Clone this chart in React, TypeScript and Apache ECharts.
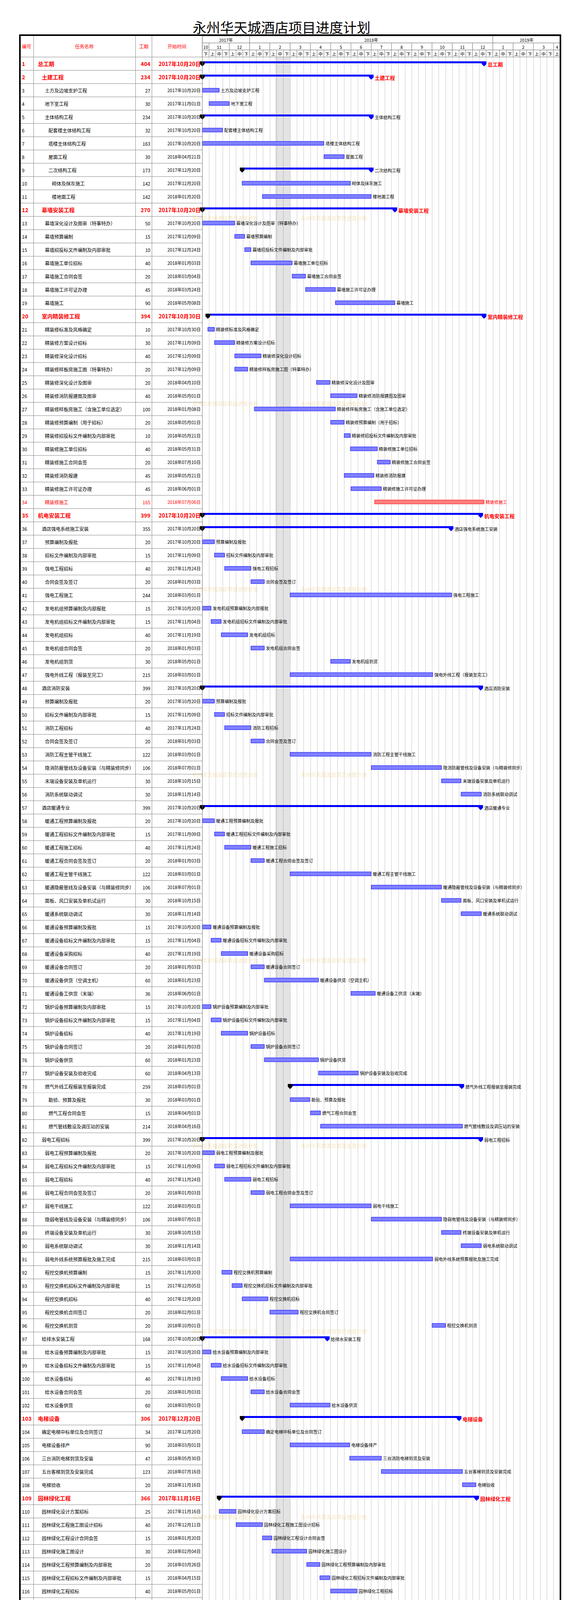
import React, { useEffect, useRef } from "react";
import * as echarts from "echarts";

const FONT = '"Noto Sans CJK SC", "Noto Sans", sans-serif';

const taskNames: string[] = [
  "总工期", "土建工程", "土方及边坡支护工程", "地下室工程", "主体结构工程", "配套楼主体结构工程", "塔楼主体结构工程", "屋面工程", "二次结构工程", "砌体及抹灰施工",
  "楼地面工程", "幕墙安装工程", "幕墙深化设计及图审（特事特办）", "幕墙预算编制", "幕墙招投标文件编制及内部审批", "幕墙施工单位招标", "幕墙施工合同会签", "幕墙施工许可证办理", "幕墙施工", "室内精装修工程",
  "精装修标准及风格确定", "精装修方案设计招标", "精装修深化设计招标", "精装修样板房施工图（特事特办）", "精装修深化设计及图审", "精装修消防报建图及图审", "精装修样板房施工（含施工单位选定）", "精装修预算编制（用于招标）", "精装修招投标文件编制及内部审批", "精装修施工单位招标",
  "精装修施工合同会签", "精装修消防报建", "精装修施工许可证办理", "精装修施工", "机电安装工程", "酒店强电系统施工安装", "预算编制及报批", "招标文件编制及内部审批", "强电工程招标", "合同会签及签订",
  "强电工程施工", "发电机组预算编制及内部报批", "发电机组招标文件编制及内部审批", "发电机组招标", "发电机组合同会签", "发电机组到货", "强电外线工程（报装至完工）", "酒店消防安装", "预算编制及报批", "招标文件编制及内部审批",
  "消防工程招标", "合同会签及签订", "消防工程主管干线施工", "隐消防蔽管线及设备安装（与精装修同步）", "末端设备安装及单机运行", "消防系统联动调试", "酒店暖通专业", "暖通工程预算编制及报批", "暖通工程招标文件编制及内部审批", "暖通工程施工招标",
  "暖通工程合同会签及签订", "暖通工程主管干线施工", "暖通隐蔽管线及设备安装（与精装修同步）", "面板、风口安装及单机试运行", "暖通系统联动调试", "暖通设备预算编制及报批", "暖通设备招标文件编制及内部审批", "暖通设备采购招标", "暖通设备合同签订", "暖通设备供货（空调主机）",
  "暖通设备工供货（末端）", "锅炉设备预算编制及内部审批", "锅炉设备招标文件编制及内部审批", "锅炉设备招标", "锅炉设备合同签订", "锅炉设备供货", "锅炉设备安装及验收完成", "燃气外线工程报装至报装完成", "勘验、预算及报批", "燃气工程合同会签",
  "燃气管线敷设及调压站的安装", "弱电工程招标", "弱电工程预算编制及报批", "弱电工程招标文件编制及内部审批", "弱电工程招标", "弱电工程合同会签及签订", "弱电干线施工", "隐弱电管线及设备安装（与精装修同步）", "终端设备安装及单机运行", "弱电系统联动调试",
  "弱电外线系统预算报批及施工完成", "程控交换机预算编制", "程控交换机招标文件编制及内部审批", "程控交换机招标", "程控交换机合同签订", "程控交换机到货", "给排水安装工程", "给水设备预算编制及内部审批", "给水设备招标文件编制及内部审批", "给水设备招标",
  "给水设备合同会签", "给水设备供货", "电梯设备", "确定电梯中标单位及合同签订", "电梯设备排产", "三台消防电梯到货及安装", "五台客梯到货及安装完成", "电梯验收", "园林绿化工程", "园林绿化设计方案招标",
  "园林绿化工程施工图设计招标", "园林绿化工程设计合同会签", "园林绿化施工图设计", "园林绿化工程预算编制及内部审批", "园林绿化工程招标文件编制及内部审批", "园林绿化工程招标", "园林绿化工程合同会签", "园林绿化工程施工", "洗衣房设备采购及安装", "洗衣房设备预算编制及内部审批",
  "洗衣房设备招标文件编制及内部审批", "洗衣房设备招标", "洗衣房设备合同会签", "洗衣房设备到货", "洗衣房设备安装", "洗衣房设备调试及验收", "精装修期间十大件采购", "卫浴洁具五金采购", "卫浴洁具五金预算书编制及内部审核", "卫浴洁具五金招标文件编制及内部审核",
  "卫浴洁具五金招标", "卫浴洁具五金合同会签", "卫浴洁具五金货到工地（分批）", "地毯家具门锁标牌灯具窗帘采购（六件）", "预算编制及呈批", "招标文件编制及内部审批", "招标", "合同会签", "发货", "活动隔断采购",
  "活动隔断预算书编制及内部审核", "活动隔断招标文件编制及内部审核", "活动隔断招标", "活动隔断合同会签", "活动隔断货到工地及安装", "厨房设备及安装工程", "厨房设备预算编制及内部审批", "厨房房设备招标文件编制及内部审批", "厨房设备招标", "厨房房设备合同会签",
  "厨房设备到货", "厨房设备安装", "厨房设备调试及验收",
];

// outline level of each row (0 = top)
const taskLevels: number[] = [
  0, 1, 2, 2, 2, 3, 3, 3, 3, 4,
  4, 1, 2, 2, 2, 2, 2, 2, 2, 1,
  2, 2, 2, 2, 2, 2, 2, 2, 2, 2,
  2, 2, 2, 2, 0, 1, 2, 2, 2, 2,
  2, 2, 2, 2, 2, 2, 2, 1, 2, 2,
  2, 2, 2, 2, 2, 2, 1, 2, 2, 2,
  2, 2, 2, 2, 2, 2, 2, 2, 2, 2,
  2, 2, 2, 2, 2, 2, 2, 2, 3, 3,
  3, 1, 2, 2, 2, 2, 2, 2, 2, 2,
  2, 2, 2, 2, 2, 2, 1, 2, 2, 2,
  2, 2, 0, 1, 1, 1, 1, 1, 0, 1,
  1, 1, 1, 1, 1, 1, 1, 1, 0, 1,
  1, 1, 1, 1, 1, 1, 0, 1, 2, 2,
  2, 2, 2, 1, 2, 2, 2, 2, 2, 1,
  2, 2, 2, 2, 2, 1, 2, 2, 2, 2,
  2, 2, 2,
];

// S = main summary (bold red), s = summary, r = red summary, c = critical task, t = task
const taskKinds: string[] = [
  "S", "S", "t", "t", "s", "t", "t", "t", "s", "t",
  "t", "S", "t", "t", "t", "t", "t", "t", "t", "S",
  "t", "t", "t", "t", "t", "t", "t", "t", "t", "t",
  "t", "t", "t", "c", "S", "s", "t", "t", "t", "t",
  "t", "t", "t", "t", "t", "t", "t", "s", "t", "t",
  "t", "t", "t", "t", "t", "t", "s", "t", "t", "t",
  "t", "t", "t", "t", "t", "t", "t", "t", "t", "t",
  "t", "t", "t", "t", "t", "t", "t", "s", "t", "t",
  "t", "s", "t", "t", "t", "t", "t", "t", "t", "t",
  "t", "t", "t", "t", "t", "t", "s", "t", "t", "t",
  "t", "t", "S", "t", "t", "t", "t", "t", "S", "t",
  "t", "t", "t", "t", "t", "t", "t", "t", "r", "t",
  "t", "t", "t", "t", "t", "t", "S", "s", "t", "t",
  "t", "t", "t", "s", "t", "t", "t", "t", "t", "s",
  "t", "t", "t", "t", "t", "s", "t", "t", "t", "t",
  "t", "t", "t",
];

const durations: number[] = [
  404, 234, 27, 30, 234, 32, 163, 30, 173, 142,
  142, 270, 50, 15, 10, 40, 20, 45, 90, 394,
  10, 30, 40, 20, 20, 40, 100, 20, 10, 40,
  20, 45, 45, 165, 399, 355, 20, 15, 40, 20,
  244, 15, 15, 40, 20, 30, 215, 399, 20, 15,
  40, 20, 122, 106, 30, 30, 399, 20, 15, 40,
  20, 122, 106, 30, 30, 15, 15, 40, 20, 60,
  36, 15, 15, 40, 20, 60, 60, 259, 30, 15,
  214, 399, 20, 15, 40, 20, 122, 106, 30, 30,
  215, 15, 15, 40, 20, 20, 168, 15, 15, 40,
  20, 60, 306, 34, 90, 47, 123, 20, 366, 25,
  40, 15, 30, 20, 15, 40, 15, 167, 256, 15,
  15, 40, 15, 60, 90, 10, 261, 197, 15, 15,
  40, 20, 104, 199, 20, 20, 40, 20, 20, 178,
  15, 20, 40, 20, 20, 256, 15, 15, 40, 15,
  60, 90, 10,
];

const startDates: string[] = [
  "2017-10-20", "2017-10-20", "2017-10-20", "2017-11-01", "2017-10-20", "2017-10-20", "2017-10-20", "2018-04-21", "2017-12-20", "2017-12-20",
  "2018-01-20", "2017-10-20", "2017-10-20", "2017-12-09", "2017-12-24", "2018-01-03", "2018-03-04", "2018-03-24", "2018-05-08", "2017-10-30",
  "2017-10-30", "2017-11-09", "2017-12-09", "2017-12-09", "2018-04-10", "2018-05-01", "2018-01-08", "2018-05-01", "2018-05-21", "2018-05-31",
  "2018-07-10", "2018-05-21", "2018-06-01", "2018-07-06", "2017-10-20", "2017-10-20", "2017-10-20", "2017-11-09", "2017-11-24", "2018-01-03",
  "2018-03-01", "2017-10-20", "2017-11-04", "2017-11-19", "2018-01-03", "2018-05-01", "2018-03-01", "2017-10-20", "2017-10-20", "2017-11-09",
  "2017-11-24", "2018-01-03", "2018-03-01", "2018-07-01", "2018-10-15", "2018-11-14", "2017-10-20", "2017-10-20", "2017-11-09", "2017-11-24",
  "2018-01-03", "2018-03-01", "2018-07-01", "2018-10-15", "2018-11-14", "2017-10-20", "2017-11-04", "2017-11-19", "2018-01-03", "2018-01-23",
  "2018-06-01", "2017-10-20", "2017-11-04", "2017-11-19", "2018-01-03", "2018-01-23", "2018-04-13", "2018-03-01", "2018-03-01", "2018-04-01",
  "2018-04-16", "2017-10-20", "2017-10-20", "2017-11-09", "2017-11-24", "2018-01-03", "2018-03-01", "2018-07-01", "2018-10-15", "2018-11-14",
  "2018-03-01", "2017-11-20", "2017-12-05", "2017-12-20", "2018-02-01", "2018-10-01", "2017-10-20", "2017-10-20", "2017-11-04", "2017-11-19",
  "2018-01-03", "2018-03-01", "2017-12-20", "2017-12-20", "2018-03-01", "2018-05-30", "2018-07-16", "2018-11-16", "2017-11-16", "2017-11-16",
  "2017-12-11", "2018-01-20", "2018-02-04", "2018-03-26", "2018-04-15", "2018-05-01", "2018-06-10", "2018-06-25", "2018-03-27", "2018-03-27",
  "2018-04-11", "2018-04-26", "2018-06-05", "2018-06-20", "2018-08-19", "2018-11-17", "2018-03-27", "2018-05-01", "2018-05-01", "2018-05-16",
  "2018-06-01", "2018-07-11", "2018-08-01", "2018-05-12", "2018-05-12", "2018-06-01", "2018-06-21", "2018-08-01", "2018-11-07", "2018-05-01",
  "2018-05-01", "2018-05-16", "2018-06-05", "2018-07-15", "2018-10-06", "2018-03-27", "2018-03-27", "2018-04-11", "2018-04-26", "2018-06-05",
  "2018-06-20", "2018-08-19", "2018-11-17",
];

const yearLabels = ["2017年", "2018年", "2019年"];
const yearDekads = [7, 36, 10];
const monthLabels = ["10", "11", "12", "1", "2", "3", "4", "5", "6", "7", "8", "9", "10", "11", "12", "1", "2", "3", "4"];
const monthDekads = [1, 3, 3, 3, 3, 3, 3, 3, 3, 3, 3, 3, 3, 3, 3, 3, 3, 3, 1];
const dekadLabels = [
  "下", "上", "中", "下", "上", "中", "下",
  "上", "中", "下", "上", "中", "下", "上", "中", "下", "上", "中", "下", "上", "中", "下", "上", "中", "下",
  "上", "中", "下", "上", "中", "下", "上", "中", "下", "上", "中", "下", "上", "中", "下", "上", "中", "下",
  "上", "中", "下", "上", "中", "下", "上", "中", "下", "上",
];

const holidayFirst = "2018-02-09";
const holidayLast = "2018-02-28";

const titleText = "永州华天城酒店项目进度计划";
const watermarkText = "永州华天城酒店项目进度计划";
const tableHead = ["编号", "任务名称", "工期", "开始时间"];
const legendItems = ["关键任务", "一般任务", "一般摘要"];
const infoRows: string[][] = [
  ["编制人", "永州华天城酒店项目进度计划"],
  ["项目经理", "", "开始时间", "2017年10月20日"],
  ["审核人", "", "结束时间", "2018年12月17日"],
  ["校对人", "", "工期", "404天"],
  ["", "2017-10-20"],
];

// ---------- helpers ----------
const DAY = 86400000;
function parseDate(s: string) {
  const [y, m, d] = s.split("-").map(Number);
  return Date.UTC(y, m - 1, d);
}
const hFirst = parseDate(holidayFirst);
const hLast = parseDate(holidayLast);
function endExclusive(startMs: number, dur: number) {
  let t = startMs;
  let n = 0;
  while (n < dur) {
    if (!(t >= hFirst && t <= hLast)) n++;
    t += DAY;
  }
  return t;
}
function dekadPos(ms: number) {
  const dt = new Date(ms);
  const y = dt.getUTCFullYear();
  const m = dt.getUTCMonth() + 1;
  const d = dt.getUTCDate();
  const mi = (y - 2017) * 12 + (m - 1) - 9;
  const dim = new Date(Date.UTC(y, m, 0)).getUTCDate();
  let k = 0, s = 1, len = 10;
  if (d > 20) { k = 2; s = 21; len = dim - 20; } else if (d > 10) { k = 1; s = 11; len = 10; }
  return Math.max(0, mi * 3 + k - 2 + (d - s) / len);
}
function fmtDate(s: string) {
  const [y, m, d] = s.split("-");
  return `${y}年${m}月${d}日`;
}

const W = 1480, H = 5599;
const GL = 518, GR = 1435, BT = 146, RH = 34;
const NROWS = taskNames.length;
const NDEK = dekadLabels.length;
const BOTTOM = BT + NROWS * RH;
const levelX = [97, 107, 115, 124, 133];
const SPLIT_ROW = 78;
const SPLIT_Y = BT + SPLIT_ROW * RH;
const FRAME_TOP = 90, FRAME_BOTTOM = 5548, FRAME_L = 51, FRAME_R = 1435;

const txt = (text: string, x: number, y: number, o: any = {}) => ({
  type: "text",
  style: {
    text, x, y,
    fill: o.fill || "#000",
    fontSize: o.size || 12,
    fontWeight: o.weight || "normal",
    fontFamily: FONT,
    align: o.align || "left",
    textAlign: o.align || "left",
    verticalAlign: "middle",
    textVerticalAlign: "middle",
    opacity: o.opacity == null ? 1 : o.opacity,
  },
  z: o.z || 10,
});

const summaryShape = (x: number, yc: number, color: string) => ({
  type: "polygon",
  shape: { points: [[x - 6, yc - 6], [x + 6, yc - 6], [x + 6, yc + 1], [x, yc + 7], [x - 6, yc + 1]] },
  style: { fill: color },
});

// static decorations, only those inside [top, bottom)
function staticGraphics(top: number, bottom: number) {
  const g: any[] = [];
  const inside = (y0: number, y1: number) => y1 > top && y0 < bottom;
  const addAt = (el: any, y0: number, y1: number) => { if (inside(y0, y1)) g.push(el); };
  const vline = (x: number, y0: number, y1: number, stroke: string, lw: number, z = 10) => {
    const a = Math.max(y0, top), b = Math.min(y1, bottom);
    if (b > a) g.push({ type: "line", shape: { x1: x, y1: a, x2: x, y2: b }, style: { stroke, lineWidth: lw }, z });
  };
  const hline = (x0: number, x1: number, y: number, stroke: string, lw: number, z = 10) =>
    addAt({ type: "line", shape: { x1: x0, y1: y, x2: x1, y2: y }, style: { stroke, lineWidth: lw }, z }, y - 2, y + 2);

  for (let k = 0; k < 11; k++) {
    const y = 557 + k * 475;
    addAt(txt(watermarkText, 492, y, { size: 13, fill: "#e9c46a", opacity: 0.45, z: 0 }), y - 9, y + 9);
    addAt(txt(watermarkText, 770, y, { size: 13, fill: "#e9c46a", opacity: 0.45, z: 0 }), y - 9, y + 9);
  }
  addAt(txt(titleText, 721, 68, { size: 35, align: "center" }), 45, 90);
  addAt(txt(tableHead[0], 56, 118, { fill: "#ff0000", size: 12 }), 110, 126);
  addAt(txt(tableHead[1], 216, 118, { fill: "#ff0000", size: 12, align: "center" }), 110, 126);
  addAt(txt(tableHead[2], 368, 118, { fill: "#ff0000", size: 12, align: "center" }), 110, 126);
  addAt(txt(tableHead[3], 453, 118, { fill: "#ff0000", size: 12, align: "center" }), 110, 126);
  [86, 347, 389].forEach((x) => vline(x, FRAME_TOP, BT, "#808080", 1));
  vline(GL, FRAME_TOP, BOTTOM, "#808080", 1);
  hline(FRAME_L, GL, BT, "#808080", 1);
  hline(FRAME_L, FRAME_R, BOTTOM, "#000", 2);
  // frame
  hline(FRAME_L - 2, FRAME_R + 2, FRAME_TOP, "#000", 4, 20);
  hline(FRAME_L - 2, FRAME_R + 2, FRAME_BOTTOM, "#000", 4, 20);
  vline(FRAME_L, FRAME_TOP, FRAME_BOTTOM, "#000", 4, 20);
  vline(FRAME_R, FRAME_TOP, FRAME_BOTTOM, "#000", 4, 20);
  // legend
  const ly = BOTTOM + 20;
  if (inside(ly - 10, ly + 10)) {
    g.push(txt("图例：", 63, ly, { size: 12 }));
    g.push(txt(legendItems[0], 105, ly, { size: 12, fill: "#ff0000" }));
    g.push({ type: "rect", shape: { x: 164, y: ly - 4.5, width: 30, height: 9 }, style: { fill: "#ff7f7f", stroke: "#ff0000", lineWidth: 1 } });
    g.push(txt(legendItems[1], 207, ly, { size: 12 }));
    g.push({ type: "rect", shape: { x: 266, y: ly - 4.5, width: 30, height: 9 }, style: { fill: "#7f7fff", stroke: "#0000ff", lineWidth: 1 } });
    g.push(txt(legendItems[2], 309, ly, { size: 12 }));
    g.push({ type: "rect", shape: { x: 368, y: ly - 6, width: 30, height: 5 }, style: { fill: "#0000ff" } });
    g.push(summaryShape(368, ly, "#000"));
    g.push(summaryShape(398, ly, "#0000ff"));
  }
  // info block
  const cx = [1137, 1197, 1287, 1348, 1437];
  const ry = [5383, 5416, 5449, 5482, 5515, 5549];
  if (inside(ry[0], ry[5])) {
    g.push({ type: "line", shape: { x1: cx[0], y1: ry[0], x2: cx[4], y2: ry[0] }, style: { stroke: "#000", lineWidth: 1.5 } });
    for (let r = 0; r < 5; r++) {
      const y0 = ry[r], y1 = ry[r + 1], yc = (y0 + y1) / 2;
      g.push({ type: "line", shape: { x1: cx[0], y1: y1, x2: cx[4], y2: y1 }, style: { stroke: "#000", lineWidth: 1.5 } });
      const row = infoRows[r];
      let bounds: number[][];
      if (r === 0) bounds = [[cx[0], cx[1]], [cx[1], cx[4]]];
      else if (r === 4) bounds = [[cx[0], cx[2]], [cx[2], cx[4]]];
      else bounds = [[cx[0], cx[1]], [cx[1], cx[2]], [cx[2], cx[3]], [cx[3], cx[4]]];
      bounds.forEach((b, j) => {
        g.push({ type: "line", shape: { x1: b[0], y1: y0, x2: b[0], y2: y1 }, style: { stroke: "#000", lineWidth: 1.5 } });
        if (row[j]) g.push(txt(row[j], (b[0] + b[1]) / 2, yc, { size: 11, align: "center" }));
      });
    }
  }
  return g;
}

function buildOption(r0: number, r1: number, offset: number, height: number, withHeader: boolean) {
  const rowIdx: number[] = [];
  for (let i = r0; i < r1; i++) rowIdx.push(i);
  const barData = rowIdx.map((i, k) => {
    const st = parseDate(startDates[i]);
    const en = endExclusive(st, durations[i]);
    return [dekadPos(st), dekadPos(en), k];
  });

  const headerCells: [number, number, number, string][] = [];
  let acc = 0;
  yearLabels.forEach((l, i) => { headerCells.push([acc, acc + yearDekads[i], 0, l]); acc += yearDekads[i]; });
  acc = 0;
  monthLabels.forEach((l, i) => { headerCells.push([acc, acc + monthDekads[i], 1, l]); acc += monthDekads[i]; });
  dekadLabels.forEach((l, i) => headerCells.push([i, i + 1, 2, l]));

  const gridTop = BT + r0 * RH - offset;
  const grids: any[] = [{ left: GL, top: gridTop, width: GR - GL, height: (r1 - r0) * RH }];
  const xAxes: any[] = [{
    type: "value", gridIndex: 0, min: 0, max: NDEK, interval: 1,
    axisLine: { show: false }, axisTick: { show: false }, axisLabel: { show: false },
    splitLine: { show: true, lineStyle: { color: "#555", type: [1, 2], width: 1 } },
  }];
  const yAxes: any[] = [{
    type: "category", gridIndex: 0, inverse: true, data: rowIdx.map((i) => String(i + 1)),
    axisLine: { show: false }, axisTick: { show: false }, axisLabel: { show: false }, splitLine: { show: false },
  }];
  const series: any[] = [
    {
      type: "custom", xAxisIndex: 0, yAxisIndex: 0, z: 1,
      data: [[dekadPos(hFirst), dekadPos(hLast + DAY), 0]],
      encode: { x: [0, 1], y: 2 },
      renderItem: (params: any, api: any) => {
        const cs = params.coordSys;
        const x0 = api.coord([api.value(0), 0])[0];
        const x1 = api.coord([api.value(1), 0])[0];
        return { type: "rect", shape: { x: x0, y: cs.y, width: x1 - x0, height: cs.height }, style: { fill: "rgba(0,0,0,0.11)" } };
      },
    },
    {
      type: "custom", xAxisIndex: 0, yAxisIndex: 0, z: 3,
      data: rowIdx.map((_, k) => [0, k]),
      encode: { x: 0, y: 1 },
      renderItem: (params: any, api: any) => {
        const i = rowIdx[params.dataIndex];
        const yc = api.coord([0, params.dataIndex])[1];
        const h = api.size([0, 1])[1];
        const kind = taskKinds[i];
        const big = kind === "S";
        const red = kind === "S" || kind === "r" || kind === "c";
        const col = red ? "#ff0000" : "#000";
        const size = big ? 14 : 12;
        const weight = big ? "bold" : "normal";
        return {
          type: "group",
          children: [
            { type: "line", shape: { x1: FRAME_L, y1: yc + h / 2, x2: GL, y2: yc + h / 2 }, style: { stroke: "#808080", lineWidth: 1 } },
            ...[86, 347, 389].map((x) => ({ type: "line", shape: { x1: x, y1: yc - h / 2, x2: x, y2: yc + h / 2 }, style: { stroke: "#808080", lineWidth: 1 } })),
            txt(String(i + 1), 56, yc, { size, weight, fill: col }),
            txt(taskNames[i], levelX[taskLevels[i]], yc, { size, weight, fill: col }),
            txt(String(durations[i]), 385, yc, { size, weight, fill: col, align: "right" }),
            txt(fmtDate(startDates[i]), 514, yc, { size: big ? 14 : 11.5, weight, fill: col, align: "right" }),
          ],
        };
      },
    },
    {
      type: "custom", xAxisIndex: 0, yAxisIndex: 0, z: 4,
      data: barData,
      encode: { x: [0, 1], y: 2 },
      renderItem: (params: any, api: any) => {
        const i = rowIdx[params.dataIndex];
        const p0 = api.coord([api.value(0), api.value(2)]);
        const p1 = api.coord([api.value(1), api.value(2)]);
        const yc = p0[1];
        const kind = taskKinds[i];
        const children: any[] = [];
        if (kind === "S" || kind === "s" || kind === "r") {
          children.push({ type: "rect", shape: { x: p0[0], y: yc - 6, width: p1[0] - p0[0], height: 5 }, style: { fill: "#0000ff" } });
          children.push(summaryShape(p0[0], yc, "#000"));
          children.push(summaryShape(p1[0], yc, "#0000ff"));
          children.push(
            txt(taskNames[i], p1[0] + 9, yc + 1, {
              size: kind === "S" ? 13 : 11,
              weight: kind === "S" ? "bold" : "normal",
              fill: kind === "s" ? "#000" : "#ff0000",
            })
          );
        } else {
          const crit = kind === "c";
          children.push({
            type: "rect",
            shape: { x: p0[0], y: yc - 5, width: Math.max(1, p1[0] - p0[0]), height: 10 },
            style: { fill: crit ? "#ff7f7f" : "#7f7fff", stroke: crit ? "#ff0000" : "#0000ff", lineWidth: 1 },
          });
          children.push(txt(taskNames[i], p1[0] + 4, yc, { size: 11, fill: crit ? "#ff0000" : "#000" }));
        }
        return { type: "group", children };
      },
    },
  ];

  if (withHeader) {
    grids.push({ left: GL, top: 92 - offset, width: GR - GL, height: 54 });
    xAxes.push({
      type: "value", gridIndex: 1, min: 0, max: NDEK, interval: 1,
      axisLine: { show: false }, axisTick: { show: false }, axisLabel: { show: false }, splitLine: { show: false },
    });
    yAxes.push({
      type: "value", gridIndex: 1, inverse: true, min: 0, max: 3,
      axisLine: { show: false }, axisTick: { show: false }, axisLabel: { show: false }, splitLine: { show: false },
    });
    series.push({
      type: "custom", xAxisIndex: 1, yAxisIndex: 1, z: 2,
      data: headerCells.map((c) => [c[0], c[1], c[2]]),
      encode: { x: [0, 1], y: 2 },
      renderItem: (params: any, api: any) => {
        const c = headerCells[params.dataIndex];
        const p0 = api.coord([c[0], c[2]]);
        const p1 = api.coord([c[1], c[2] + 1]);
        return {
          type: "group",
          children: [
            { type: "rect", shape: { x: p0[0], y: p0[1], width: p1[0] - p0[0], height: p1[1] - p0[1] }, style: { fill: "#fff", stroke: "#808080", lineWidth: 1 } },
            txt(c[3], (p0[0] + p1[0]) / 2, (p0[1] + p1[1]) / 2 + 1, { size: 11, align: "center" }),
          ],
        };
      },
    });
  }

  return {
    animation: false,
    grid: grids,
    xAxis: xAxes,
    yAxis: yAxes,
    graphic: [{ type: "group", x: 0, y: -offset, children: staticGraphics(offset, offset + height) }],
    series,
  };
}

export default function App() {
  const refA = useRef<HTMLDivElement>(null);
  const refB = useRef<HTMLDivElement>(null);
  useEffect(() => {
    document.body.style.margin = "0";
    const a = echarts.init(refA.current!, undefined, { renderer: "svg" });
    const b = echarts.init(refB.current!, undefined, { renderer: "svg" });
    a.setOption(buildOption(0, SPLIT_ROW, 0, SPLIT_Y, true));
    b.setOption(buildOption(SPLIT_ROW, NROWS, SPLIT_Y, H - SPLIT_Y, false));
    return () => {
      a.dispose();
      b.dispose();
    };
  }, []);
  return (
    <div style={{ width: W, height: H }}>
      <div ref={refA} style={{ width: W, height: SPLIT_Y }} />
      <div ref={refB} style={{ width: W, height: H - SPLIT_Y }} />
    </div>
  );
}
